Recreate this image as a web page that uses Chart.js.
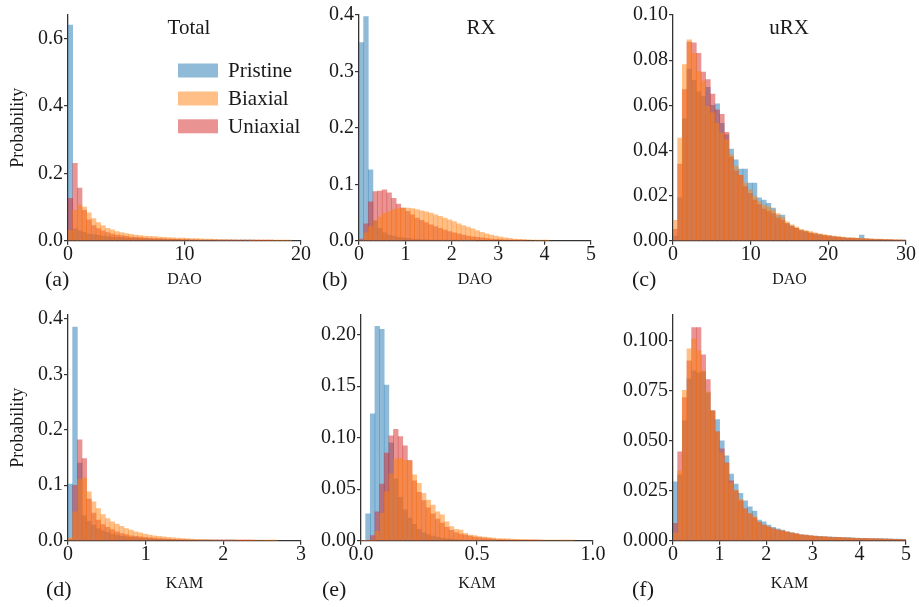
<!DOCTYPE html>
<html><head><meta charset="utf-8">
<script src="https://cdn.jsdelivr.net/npm/chart.js@4.4.0/dist/chart.umd.min.js"></script>
<style>
html,body{margin:0;padding:0;background:#fff;width:919px;height:607px;overflow:hidden;position:relative;}
canvas{position:absolute;}
</style></head><body>
<canvas id="pa"></canvas><canvas id="pb"></canvas><canvas id="pc"></canvas>
<canvas id="pd"></canvas><canvas id="pe"></canvas><canvas id="pf"></canvas>
<script>
// ---------- DATA ----------
const seriesNames = ['Pristine', 'Biaxial', 'Uniaxial'];

// (a) DAO, Total — bin width 0.4
const binA = 0.4;
const pristineA = [0.64,0.035,0.03,0.025,0.02,0.018,0.016,0.014,0.012,0.011,0.01,0.009,0.008,0.007,0.007,0.006,0.006,0.005,0.005,0.004,0.004,0.0035,0.003,0.003,0.0025,0.0025,0.002,0.002,0.0018,0.0015,0.0013,0.0012,0.001,0.0009,0.0008,0.0007,0.0006,0.0005,0.0004,0.0003];
const biaxialA  = [0.03,0.09,0.106,0.1,0.083,0.066,0.054,0.045,0.037,0.032,0.027,0.024,0.021,0.019,0.017,0.015,0.014,0.013,0.012,0.011,0.01,0.009,0.0085,0.008,0.0075,0.007,0.0065,0.006,0.0055,0.005,0.0045,0.004,0.0035,0.003,0.0027,0.0024,0.0021,0.0018,0.0015,0.0012,0.001,0.0008,0.0006,0.0005,0.0004,0.0003,0.0002,0.0001];
const uniaxialA = [0.126,0.23,0.156,0.09,0.062,0.045,0.036,0.029,0.024,0.02,0.017,0.015,0.013,0.011,0.01,0.009,0.008,0.007,0.0065,0.006,0.0055,0.005,0.0045,0.004,0.0035,0.003,0.0027,0.0024,0.0021,0.0018,0.0016,0.0014,0.0012,0.001,0.0009,0.0008,0.0007,0.0006,0.0005,0.0004,0.0003,0.0002,0.0002,0.0001];

// (b) DAO, RX — bin width 0.1
const binB = 0.1;
const pristineB = [0.351,0.397,0.1256,0.035,0.022,0.014,0.01,0.008,0.006,0.005,0.004,0.003,0.0025,0.002,0.0015,0.001,0.001,0.0008,0.0006,0.0005,0.0004,0.0003,0.0002,0.0002,0.0001];
const biaxialB  = [0.001,0.014,0.025,0.035,0.042,0.048,0.052,0.055,0.057,0.058,0.058,0.057,0.055,0.053,0.051,0.049,0.046,0.043,0.04,0.037,0.034,0.03,0.027,0.024,0.021,0.018,0.015,0.012,0.01,0.008,0.0065,0.005,0.004,0.003,0.0025,0.002,0.0015,0.001,0.0006,0.0004,0.0002];
const uniaxialB = [0.003,0.03,0.069,0.087,0.088,0.09,0.085,0.075,0.065,0.058,0.052,0.046,0.04,0.036,0.032,0.028,0.025,0.022,0.019,0.016,0.014,0.012,0.01,0.008,0.007,0.006,0.005,0.004,0.003,0.0025,0.002,0.0015,0.001,0.0008,0.0005,0.0003];

// (c) DAO, uRX — bin width 0.6
const binC = 0.6;
const pristineC = [0.002,0.019,0.054,0.076,0.071,0.066,0.064,0.068,0.06,0.0606,0.052,0.047,0.0406,0.0358,0.0317,0.0317,0.0255,0.0255,0.019,0.018,0.0166,0.0144,0.0114,0.0114,0.0077,0.0065,0.0055,0.0045,0.004,0.0033,0.003,0.0027,0.0024,0.002,0.0018,0.0016,0.0014,0.0012,0.0012,0.001,0.0025,0.0008,0.0007,0.0006,0.0006,0.0005,0.0004,0.0003,0.0002,0.0002];
const biaxialC  = [0.009,0.0455,0.078,0.089,0.083,0.075,0.0707,0.0595,0.0566,0.052,0.0477,0.0447,0.038,0.033,0.029,0.0255,0.0225,0.0196,0.0173,0.0158,0.015,0.0136,0.012,0.0104,0.0084,0.007,0.006,0.005,0.0045,0.004,0.0035,0.003,0.0027,0.0024,0.002,0.0018,0.0016,0.0014,0.0013,0.0012,0.001,0.0009,0.0008,0.0007,0.0007,0.0006,0.0006,0.0005,0.0004,0.0003];
const uniaxialC = [0.005,0.034,0.067,0.088,0.0877,0.083,0.0747,0.0714,0.065,0.058,0.056,0.048,0.037,0.031,0.029,0.024,0.021,0.018,0.016,0.014,0.013,0.012,0.01,0.009,0.0075,0.0065,0.0055,0.0045,0.004,0.0035,0.003,0.0026,0.0022,0.002,0.0017,0.0015,0.0013,0.0011,0.001,0.0009,0.0008,0.0007,0.0006,0.0005,0.0005,0.0004,0.0004,0.0003,0.0003,0.0002];

// (d) KAM, Total — bin width 0.06
const binD = 0.06;
const pristineD = [0.102,0.385,0.14,0.045,0.035,0.028,0.022,0.018,0.015,0.012,0.01,0.008,0.007,0.006,0.005,0.0045,0.004,0.0035,0.003,0.0025,0.002,0.0018,0.0015,0.0012,0.001,0.0009,0.0008,0.0007,0.0006,0.0005,0.0004,0.0003,0.0003,0.0002,0.0002,0.0001];
const biaxialD  = [0.005,0.052,0.11,0.113,0.088,0.07,0.058,0.047,0.04,0.034,0.03,0.026,0.022,0.019,0.016,0.014,0.012,0.01,0.009,0.008,0.007,0.006,0.005,0.0045,0.004,0.0035,0.003,0.0025,0.002,0.0018,0.0015,0.0013,0.0011,0.001,0.0009,0.0008,0.0007,0.0006,0.0005,0.0004,0.0003,0.0003,0.0002,0.0002,0.0001];
const uniaxialD = [0.002,0.1,0.182,0.148,0.075,0.05,0.037,0.029,0.024,0.02,0.016,0.013,0.011,0.009,0.008,0.007,0.006,0.005,0.0045,0.004,0.0035,0.003,0.0025,0.002,0.0018,0.0015,0.0013,0.0011,0.001,0.0009,0.0008,0.0007,0.0006,0.0005,0.0004,0.0003,0.0003,0.0002,0.0002,0.0001];

// (e) KAM, RX — bin width 0.02
const binE = 0.02;
const pristineE = [0,0.026,0.123,0.208,0.205,0.151,0.095,0.06,0.042,0.03,0.022,0.016,0.011,0.008,0.006,0.0045,0.0035,0.0025,0.002,0.0015,0.001,0.0008,0.0006,0.0005,0.0004,0.0003,0.0002,0.0002,0.0001];
const biaxialE  = [0,0,0,0.009,0.0265,0.0476,0.065,0.079,0.08,0.078,0.077,0.064,0.0557,0.046,0.0395,0.0346,0.028,0.025,0.0184,0.0136,0.011,0.0104,0.0071,0.0055,0.005,0.004,0.0035,0.003,0.0025,0.002,0.0019,0.0017,0.0015,0.0013,0.0012,0.001,0.0009,0.0008,0.0007,0.0006,0.0005,0.0005,0.0004,0.0003,0.0003,0.0002];
const uniaxialE = [0,0,0.005,0.028,0.055,0.085,0.1017,0.108,0.101,0.092,0.078,0.058,0.047,0.039,0.032,0.026,0.021,0.017,0.013,0.01,0.008,0.0065,0.0055,0.0045,0.0035,0.003,0.0025,0.002,0.0015,0.0012,0.001,0.0008,0.0006,0.0005,0.0004,0.0003,0.0002,0.0002,0.0001];

// (f) KAM, uRX — bin width 0.1
const binF = 0.1;
const pristineF = [0.0295,0.033,0.06,0.081,0.085,0.084,0.0845,0.074,0.065,0.0607,0.05,0.0425,0.0333,0.0283,0.0237,0.02,0.017,0.0148,0.0103,0.0095,0.0078,0.0067,0.006,0.0053,0.0045,0.004,0.0035,0.003,0.0028,0.0025,0.0023,0.0022,0.002,0.0019,0.0018,0.0017,0.0016,0.0015,0.0014,0.0013,0.0012,0.0012,0.0011,0.001,0.001,0.0009,0.0009,0.0008,0.0008,0.0007];
const biaxialF  = [0.004,0.035,0.0753,0.096,0.101,0.095,0.085,0.0745,0.065,0.0545,0.044,0.0387,0.029,0.0253,0.0207,0.016,0.0137,0.012,0.0095,0.0078,0.007,0.006,0.0055,0.005,0.0045,0.004,0.0035,0.003,0.0028,0.0025,0.0023,0.0021,0.002,0.0018,0.0017,0.0016,0.0015,0.0014,0.0013,0.0012,0.0011,0.001,0.001,0.0009,0.0009,0.0008,0.0008,0.0007,0.0007,0.0006];
const uniaxialF = [0.0087,0.0445,0.0717,0.09,0.1067,0.1067,0.093,0.0807,0.065,0.0545,0.046,0.039,0.03,0.025,0.02,0.016,0.0135,0.0115,0.0092,0.0078,0.0068,0.006,0.0053,0.0048,0.0043,0.0038,0.0034,0.003,0.0027,0.0024,0.0022,0.002,0.0019,0.0017,0.0016,0.0015,0.0014,0.0013,0.0012,0.0011,0.001,0.001,0.0009,0.0009,0.0008,0.0008,0.0007,0.0007,0.0006,0.0006];

// ---------- STYLE ----------
const FONT = '"Liberation Serif", "Times New Roman", serif';
const fills = ['rgba(31,119,180,0.5)', 'rgba(255,127,14,0.5)', 'rgba(214,39,40,0.5)'];
const drawOrder = [2, 0, 1]; // Pristine bottom, Uniaxial middle, Biaxial on top
const INK = '#1a1a1a';
const SPINE = '#333';

const panelText = {
  id: 'panelText',
  afterDraw(chart, args, o) {
    const ctx = chart.ctx;
    ctx.save();
    ctx.textBaseline = 'middle';
    ctx.fillStyle = INK;
    if (o.title) {
      ctx.font = '21px ' + FONT;
      ctx.textAlign = 'center';
      ctx.fillText(o.title, o.titleX - o.left, o.titleY - o.top);
    }
    if (o.label) {
      ctx.font = '22px ' + FONT;
      ctx.textAlign = 'left';
      ctx.fillText(o.label, o.labelX - o.left, o.labelY - o.top);
    }
    if (o.legend) {
      const ys = [70.5, 98.5, 126.3];
      chart.data.datasets.forEach((ds, i) => {
        const y = ys[i] - o.top;
        ctx.fillStyle = ds.backgroundColor;
        ctx.fillRect(178 - o.left, y - 7, 40, 14);
        ctx.fillStyle = INK;
        ctx.font = '21px ' + FONT;
        ctx.textAlign = 'left';
        ctx.fillText(ds.label, 228 - o.left, y + 1);
      });
    }
    ctx.restore();
  }
};

const panels = [
  {id:'pa', left:0,   top:0,   w:320, h:300, padR:19, bin:binA, series:[pristineA,biaxialA,uniaxialA], xMax:20,  xStep:10,  xDec:0, yMax:0.67,  yStep:0.2,   yDec:1, xTitle:'DAO', yTitle:'Probability', title:'Total', titleX:189, label:'(a)', labelX:45,  labelY:280, legend:true},
  {id:'pb', left:291, top:0,   w:320, h:300, padR:20, bin:binB, series:[pristineB,biaxialB,uniaxialB], xMax:5,   xStep:1,   xDec:0, yMax:0.4,   yStep:0.1,   yDec:1, xTitle:'DAO', yTitle:null, title:'RX', titleX:481, label:'(b)', labelX:322, labelY:280},
  {id:'pc', left:605, top:0,   w:314, h:300, padR:13, bin:binC, series:[pristineC,biaxialC,uniaxialC], xMax:30,  xStep:10,  xDec:0, yMax:0.1,   yStep:0.02,  yDec:2, xTitle:'DAO', yTitle:null, title:'uRX', titleX:789, label:'(c)', labelX:632, labelY:280},
  {id:'pd', left:0,   top:300, w:320, h:307, padR:19, bin:binD, series:[pristineD,biaxialD,uniaxialD], xMax:3,   xStep:1,   xDec:0, yMax:0.407, yStep:0.1,   yDec:1, xTitle:'KAM', yTitle:'Probability', title:null, label:'(d)', labelX:46,  labelY:590},
  {id:'pe', left:293, top:300, w:320, h:307, padR:20, bin:binE, series:[pristineE,biaxialE,uniaxialE], xMax:1,   xStep:0.5, xDec:1, yMax:0.219, yStep:0.05,  yDec:2, xTitle:'KAM', yTitle:null, title:null, label:'(e)', labelX:322, labelY:590},
  {id:'pf', left:605, top:300, w:314, h:307, padR:13, bin:binF, series:[pristineF,biaxialF,uniaxialF], xMax:5,   xStep:1,   xDec:0, yMax:0.113, yStep:0.025, yDec:3, xTitle:'KAM', yTitle:null, title:null, label:'(f)', labelX:632, labelY:590}
];

panels.forEach(p => {
  const cv = document.getElementById(p.id);
  cv.width = p.w; cv.height = p.h;
  cv.style.left = p.left + 'px'; cv.style.top = p.top + 'px';
  cv.style.width = p.w + 'px'; cv.style.height = p.h + 'px';
  const plotTop = 15;
  const plotH = 225.7;
  const xAxisH = p.h - plotTop - plotH;
  const xTitleCenter = p.top === 0 ? 280 : 584;
  const xTitlePB = (p.top + p.h) - xTitleCenter - 9.6;
  const datasets = p.series.map((arr, s) => ({
    label: seriesNames[s],
    data: arr.map((v, i) => ({x: (i + 0.5) * p.bin, y: v})),
    backgroundColor: fills[s],
    borderWidth: 0,
    order: drawOrder[s],
    barPercentage: 1.0,
    categoryPercentage: 1.0,
    grouped: false
  }));
  new Chart(cv, {
    type: 'bar',
    data: {datasets},
    plugins: [panelText],
    options: {
      responsive: false,
      animation: false,
      events: [],
      layout: {padding: {top: plotTop, right: p.padR, left: 0, bottom: 0}},
      plugins: {
        legend: {display: false},
        tooltip: {enabled: false},
        panelText: {left: p.left, top: p.top, title: p.title, titleX: p.titleX, titleY: 28,
                    label: p.label, labelX: p.labelX, labelY: p.labelY, legend: !!p.legend}
      },
      scales: {
        x: {
          type: 'linear', min: 0, max: p.xMax, offset: false,
          grid: {display: true, drawOnChartArea: false, drawTicks: true, tickLength: 4, color: SPINE, lineWidth: 1.2, offset: false},
          border: {display: true, color: SPINE, width: 1.3},
          ticks: {stepSize: p.xStep, includeBounds: false, autoSkip: false, maxRotation: 0, padding: 0, color: INK,
                  font: {family: FONT, size: 20, lineHeight: 1}, callback: v => Number(v).toFixed(p.xDec)},
          title: {display: true, text: p.xTitle, color: INK, font: {family: FONT, size: 16}, padding: {top: 0, bottom: xTitlePB}},
          afterFit: s => { s.height = xAxisH; }
        },
        y: {
          type: 'linear', min: 0, max: p.yMax,
          grid: {display: true, drawOnChartArea: false, drawTicks: true, tickLength: 4, color: SPINE, lineWidth: 1.2},
          border: {display: true, color: SPINE, width: 1.3},
          ticks: {stepSize: p.yStep, includeBounds: false, autoSkip: false, padding: 1, color: INK,
                  font: {family: FONT, size: 20, lineHeight: 1}, callback: v => Number(v).toFixed(p.yDec)},
          title: {display: !!p.yTitle, text: p.yTitle || '', color: INK, font: {family: FONT, size: 18}, padding: {top: 7, bottom: 0}},
          afterFit: s => { s.width = 68; }
        }
      }
    }
  });
});
</script>
</body></html>
